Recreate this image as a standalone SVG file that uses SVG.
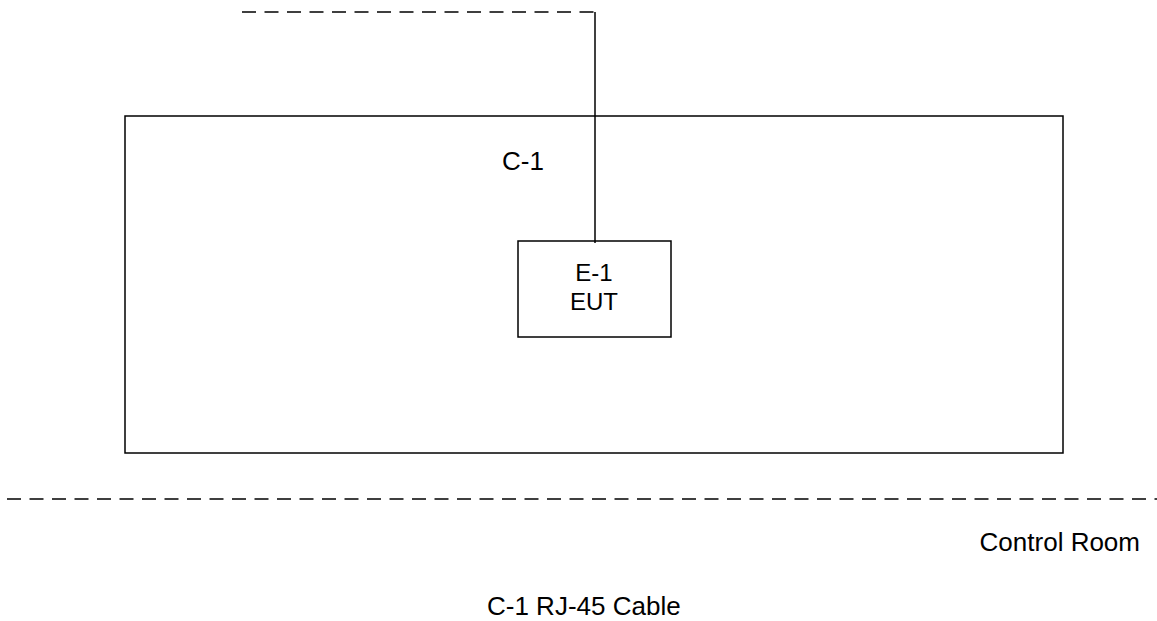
<svg xmlns="http://www.w3.org/2000/svg" width="1157" height="621" viewBox="0 0 1157 621">
<style>
.box{fill:#fff;stroke:#000;stroke-width:1.5}
.dash{fill:none;stroke:#000;stroke-width:1.5;stroke-dasharray:14 8.5}
.wire{fill:none;stroke:#000;stroke-width:1.5}
text{font-family:"Liberation Sans",Arial,sans-serif;font-size:26px;fill:#000}
.inner{font-size:24px}
</style>
<rect width="1157" height="621" fill="#fff"/>
<g id="c1-room">
<rect class="box" x="125" y="116" width="938" height="337"/>
<text x="502" y="170">C-1</text>
</g>
<g id="e1">
<rect class="box" x="518" y="241" width="153" height="96"/>
<text class="inner" x="594" y="281" text-anchor="middle">E-1</text>
<text class="inner" x="594" y="309.5" text-anchor="middle">EUT</text>
</g>
<g id="connectors">
<path class="dash" d="M242 12 H595"/>
<path class="wire" d="M595 12 V243"/>
<path class="dash" d="M7 499 H1157"/>
</g>
<g id="labels">
<text x="1140" y="551" text-anchor="end">Control Room</text>
<text x="487" y="615">C-1 RJ-45 Cable</text>
</g>
</svg>
